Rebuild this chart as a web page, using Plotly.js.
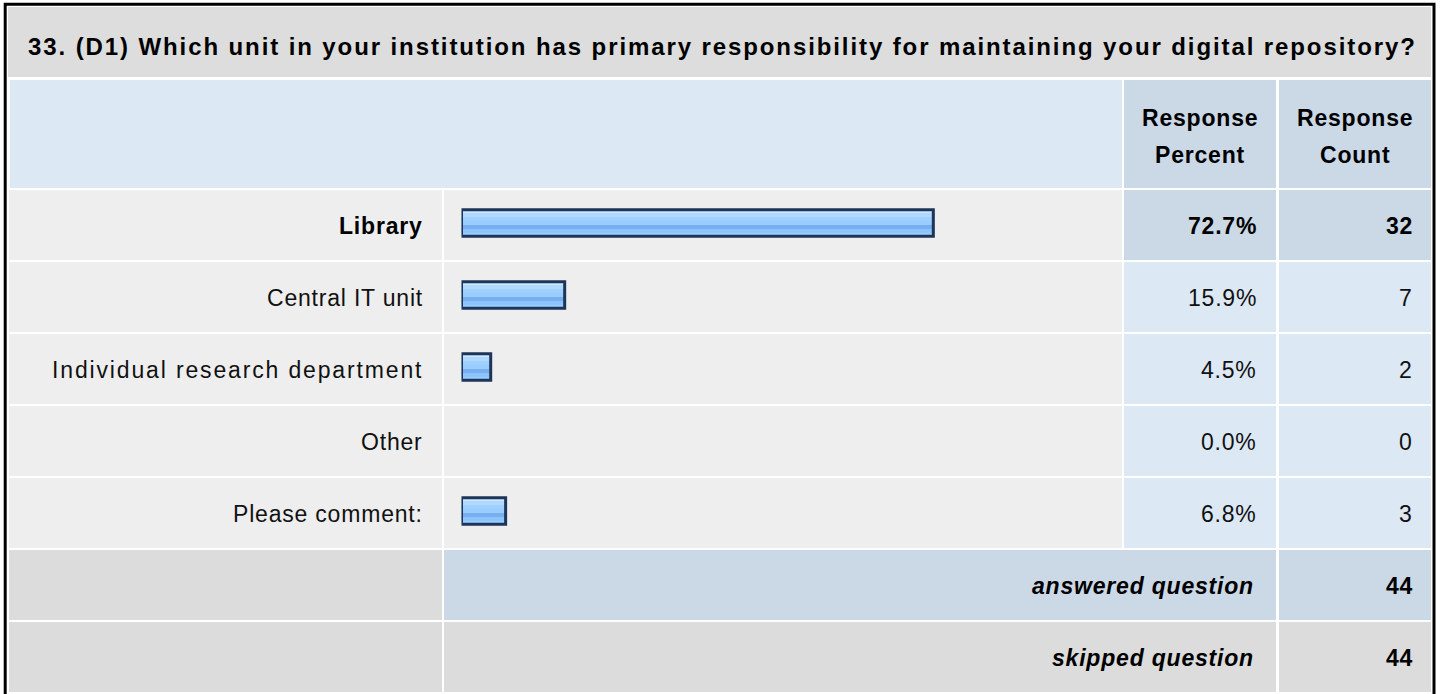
<!DOCTYPE html>
<html>
<head>
<meta charset="utf-8">
<script src="https://cdn.plot.ly/plotly-3.0.1.min.js"></script>
<style>
  html, body { margin: 0; padding: 0; background: #ffffff; }
  #chart { width: 1440px; height: 694px; }
  .annotation-text { letter-spacing: 0.8px; }
</style>
</head>
<body>
<div id="chart"></div>
<script>
// ---------------- data ----------------
const questionTitle = "33. (D1) Which unit in your institution has primary responsibility for maintaining your digital repository?";
const categories = ["Library", "Central IT unit", "Individual research department", "Other", "Please comment:"];
const percents = [72.7, 15.9, 4.5, 0.0, 6.8];
const counts = [32, 7, 2, 0, 3];
const headerPercent = ["Response", "Percent"];
const headerCount = ["Response", "Count"];
const summaryLabels = ["answered question", "skipped question"];
const summaryCounts = [44, 44];
const highlightIndex = 0; // the top answer is emphasised

// ---------------- geometry helpers (pixel layout of the table) ----------------
const W = 1440, H = 694;
const PITCH = 72;                 // row pitch in px == 1 y unit
const px = v => v / W;            // x pixel -> paper
const py = v => 1 - v / H;        // y pixel -> paper
const u = p => p / PITCH;         // pixel offset -> y units

const FONT = "Liberation Sans, Arial, Helvetica, sans-serif";
const FS = 23;

const COL = {
  label: [9, 442],
  bar: [444, 1122],
  pct: [1124, 1276],
  cnt: [1279, 1431]
};
const C_ROW = "#eeeeee", C_LIGHT = "#dde8f5", C_DARK = "#cbd8e6", C_GREY = "#dcdcdc";

function rowTop(i) { return i - u(33); }
function rowBot(i) { return i + u(37); }
function textY(i) { return i + u(3); }
function spaced(t, s) { return '<span style="letter-spacing:' + s + 'px">' + t + '</span>'; }

const shapes = [];
function rect(x0, x1, y0, y1, color, yref) {
  shapes.push({type: "rect", layer: "below", xref: "paper", yref: yref || "y",
    x0: px(x0), x1: px(x1), y0: y0, y1: y1, fillcolor: color, line: {width: 0}});
}

// title band and header
rect(8, 1431, py(7), py(77), "#dddddd", "paper");
rect(10, 1122, py(80), py(188), C_LIGHT, "paper");
rect(COL.pct[0], COL.pct[1], py(80), py(188), C_DARK, "paper");
rect(COL.cnt[0], COL.cnt[1], py(80), py(188), C_DARK, "paper");

// answer rows
categories.forEach((c, i) => {
  const t = rowTop(i), b = rowBot(i);
  rect(COL.label[0], COL.label[1], t, b, C_ROW);
  rect(COL.bar[0], COL.bar[1], t, b, C_ROW);
  const cc = i === highlightIndex ? C_DARK : C_LIGHT;
  rect(COL.pct[0], COL.pct[1], t, b, cc);
  rect(COL.cnt[0], COL.cnt[1], t, b, cc);
});
// summary rows
summaryLabels.forEach((s, k) => {
  const i = categories.length + k;
  const t = rowTop(i), b = rowBot(i);
  const cc = k === 0 ? C_DARK : C_GREY;
  rect(COL.label[0], COL.label[1], t, b, C_GREY);
  rect(COL.bar[0], COL.pct[1], t, b, cc);
  rect(COL.cnt[0], COL.cnt[1], t, b, cc);
});
// outer frame
shapes.push({type: "rect", layer: "above", xref: "paper", yref: "paper",
  x0: px(5.2), x1: px(1434), y0: py(4.2), y1: py(700), line: {color: "#000000", width: 3}, fillcolor: "rgba(0,0,0,0)"});

// ---------------- annotations ----------------
const annotations = [];
function ann(text, x, xanchor, y, yref, opts) {
  annotations.push(Object.assign({
    text: text, x: px(x), xref: "paper", xanchor: xanchor,
    y: y, yref: yref || "y", yanchor: "middle", showarrow: false,
    font: {family: FONT, size: FS, color: "#111111"}
  }, opts || {}));
}
ann(spaced(questionTitle, 1.9), 26, "left", py(46), "paper", {font: {family: FONT, size: 24, color: "#000000", weight: 700}});
ann(headerPercent[0], 1200, "center", py(118), "paper", {font: {family: FONT, size: FS, color: "#000000", weight: 700}});
ann(headerPercent[1], 1200, "center", py(155), "paper", {font: {family: FONT, size: FS, color: "#000000", weight: 700}});
ann(headerCount[0], 1355, "center", py(118), "paper", {font: {family: FONT, size: FS, color: "#000000", weight: 700}});
ann(headerCount[1], 1355, "center", py(155), "paper", {font: {family: FONT, size: FS, color: "#000000", weight: 700}});

categories.forEach((c, i) => {
  const f = {family: FONT, size: FS, color: i === highlightIndex ? "#000000" : "#111111", weight: i === highlightIndex ? 700 : 400};
  // long label renders slightly wider in the reference
  const label = c.length > 20 ? spaced(c, 1.85) : c;
  ann(label, 425, "right", textY(i), "y", {font: f});
  ann(percents[i].toFixed(1) + "%", 1259, "right", textY(i), "y", {font: f});
  ann(String(counts[i]), 1415, "right", textY(i), "y", {font: f});
});
summaryLabels.forEach((s, k) => {
  const i = categories.length + k;
  ann(s, 1256, "right", textY(i), "y", {font: {family: FONT, size: FS, color: "#000000", weight: 700, style: "italic"}});
  ann(String(summaryCounts[k]), 1415, "right", textY(i), "y", {font: {family: FONT, size: FS, color: "#000000", weight: 700}});
});

// ---------------- bars (glossy striped look via overlaid bar traces) ----------------
const yPos = categories.map((c, i) => i);
const stripes = [
  // [top px, bottom px, color] relative to bar centre
  [-13.2, 13.2, "#99ccff"],
  [-12, -9.7, "#cbe6ff"],
  [-9.7, -5.7, "#b1d9ff"],
  [-5.7, -2.3, "#a1d0fe"],
  [2, 6.3, "#78adf0"],
  [6.3, 9.7, "#8bc3fc"]
];
const traces = stripes.map(s => ({
  type: "bar", orientation: "h", x: percents, y: yPos, base: 0,
  offset: u(s[0]), width: u(s[1] - s[0]),
  marker: {color: s[2], line: {width: 0}},
  hoverinfo: "skip", showlegend: false
}));
traces.push({
  type: "bar", orientation: "h", x: percents, y: yPos, base: 0,
  offset: u(-13.2), width: u(26.4),
  marker: {color: "rgba(0,0,0,0)", line: {color: "#1c3559", width: percents.map(v => v > 0 ? 3 : 0)}},
  hoverinfo: "skip", showlegend: false
});

const layout = {
  width: W, height: H,
  margin: {l: 0, r: 0, t: 0, b: 0, pad: 0},
  paper_bgcolor: "#ffffff", plot_bgcolor: "rgba(0,0,0,0)",
  barmode: "overlay", showlegend: false,
  xaxis: {domain: [px(461.5), px(1110.5)], range: [0, 100], visible: false, fixedrange: true},
  yaxis: {domain: [0, 1], range: [u(H - 223), u(-223)], visible: false, fixedrange: true},
  shapes: shapes, annotations: annotations
};

Plotly.newPlot("chart", traces, layout, {displayModeBar: false, staticPlot: true});
</script>
</body>
</html>
